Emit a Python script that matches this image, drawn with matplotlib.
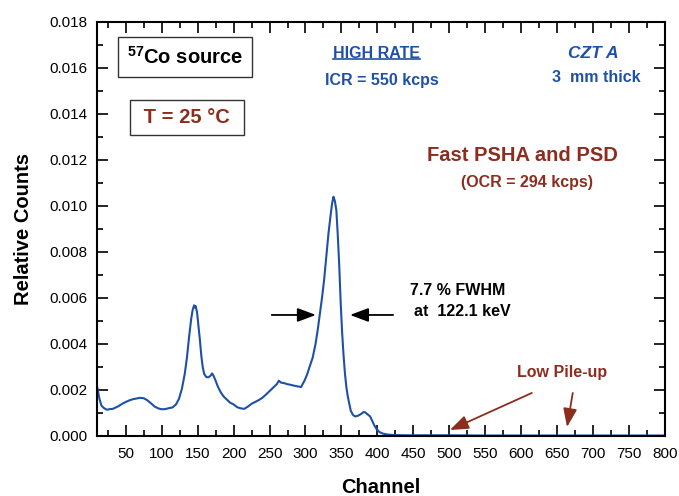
import matplotlib
matplotlib.use('Agg')
import matplotlib.pyplot as plt
from matplotlib.ticker import MultipleLocator, FormatStrFormatter
from matplotlib.lines import Line2D

plt.rcParams['font.family'] = ['Liberation Sans', 'DejaVu Sans']
plt.rcParams['mathtext.fontset'] = 'custom'
plt.rcParams['mathtext.bf'] = 'Liberation Sans:bold'
plt.rcParams['mathtext.rm'] = 'Liberation Sans:bold'
plt.rcParams['mathtext.default'] = 'bf'

# spectrum (channel, relative counts)
channel = [10, 13, 16, 20, 24, 28, 32, 36, 40, 45, 50, 55, 60, 65, 70, 75, 80, 85,
           90, 95, 100, 105, 110, 115, 120, 124, 128, 132, 135, 138, 141, 143, 145,
           146, 147, 149, 151, 153, 155, 157, 159, 162, 165, 168, 170, 172, 175, 178,
           182, 186, 190, 195, 200, 205, 210, 215, 220, 225, 230, 235, 240, 245, 250,
           255, 260, 263, 266, 270, 275, 280, 285, 290, 294, 299, 302, 306, 310, 314,
           317, 320, 323, 326, 329, 332, 335, 337, 339, 340, 341, 343, 345, 347, 349,
           351, 353, 355, 357, 359, 361, 363, 366, 369, 373, 377, 381, 383, 386, 390,
           393, 396, 399, 403, 408, 415, 425, 440, 470, 500, 550, 600, 650, 700, 750, 800]
counts = [0.00215, 0.00165, 0.00132, 0.00120, 0.00114, 0.00117, 0.00118, 0.00124,
          0.00130, 0.00140, 0.00148, 0.00155, 0.00160, 0.00163, 0.00166, 0.00164,
          0.00155, 0.00142, 0.00128, 0.00120, 0.00116, 0.00117, 0.00121, 0.00124,
          0.00138, 0.00162, 0.00205, 0.00270, 0.00340, 0.00430, 0.00510, 0.00548,
          0.00568, 0.00558, 0.00565, 0.00540, 0.00480, 0.00420, 0.00350, 0.00300,
          0.00270, 0.00256, 0.00255, 0.00262, 0.00272, 0.00262, 0.00240, 0.00215,
          0.00190, 0.00172, 0.00160, 0.00145, 0.00137, 0.00125, 0.00120, 0.00118,
          0.00128, 0.00140, 0.00148, 0.00156, 0.00166, 0.00180, 0.00195, 0.00210,
          0.00225, 0.00240, 0.00232, 0.00230, 0.00225, 0.00222, 0.00218, 0.00215,
          0.00213, 0.00243, 0.00265, 0.00303, 0.00340, 0.00400, 0.00460, 0.00530,
          0.00600, 0.00680, 0.00780, 0.00880, 0.00960, 0.01010, 0.01040, 0.01030,
          0.01020, 0.00980, 0.00870, 0.00740, 0.00580, 0.00450, 0.00350, 0.00270,
          0.00210, 0.00170, 0.00140, 0.00110, 0.00092, 0.00085, 0.00088, 0.00095,
          0.00104, 0.00103, 0.00095, 0.00085, 0.00065, 0.00045, 0.00030, 0.00017,
          0.00010, 0.00006, 0.00004, 0.00003, 0.00003, 0.00003, 0.00002, 0.00002,
          0.00002, 0.00002, 0.00002, 0.00002]

blue = '#1f50a8'
red = '#8c2d1e'

fig = plt.figure(figsize=(6.79, 4.96), dpi=100)
ax = fig.add_axes([0.143, 0.121, 0.836, 0.835])

ax.plot(channel, counts, color=blue, lw=1.5)

ax.set_xlim(10, 800)
ax.set_ylim(0, 0.018)
ax.xaxis.set_major_locator(MultipleLocator(50))
ax.xaxis.set_minor_locator(MultipleLocator(25))
ax.yaxis.set_major_locator(MultipleLocator(0.002))
ax.yaxis.set_minor_locator(MultipleLocator(0.001))
ax.yaxis.set_major_formatter(FormatStrFormatter('%.3f'))
ax.tick_params(which='both', direction='in', top=True, right=True, width=1.2,
               labelsize=11)
ax.tick_params(which='major', length=8)
ax.tick_params(which='minor', length=4)
ax.tick_params(axis='y', pad=7)
ax.tick_params(axis='x', pad=8)
for s in ax.spines.values():
    s.set_linewidth(1.5)

ax.set_xlabel('Channel', fontsize=14.5, fontweight='bold', labelpad=12)
ax.set_ylabel('Relative Counts', fontsize=14.5, fontweight='bold', labelpad=12)

# boxed labels
ax.text(132, 0.01647, r'$^{57}$Co source', fontsize=14.5, fontweight='bold',
        ha='center', va='center',
        bbox=dict(boxstyle='square,pad=0.45', fc='white', ec='#333333', lw=1))
ax.text(135, 0.01386, ' T = 25 °C ', fontsize=14.5, fontweight='bold', color=red,
        ha='center', va='center',
        bbox=dict(boxstyle='square,pad=0.4', fc='white', ec='#333333', lw=1))

hr = ax.text(399, 0.01664, 'HIGH RATE', fontsize=11.5, fontweight='bold',
             color=blue, ha='center', va='center')
ax.text(406, 0.01547, 'ICR = 550 kcps', fontsize=11.5, fontweight='bold',
        color=blue, ha='center', va='center')
ax.text(700, 0.01664, 'CZT A', fontsize=12.5, fontweight='bold', style='italic',
        color=blue, ha='center', va='center')
ax.text(705, 0.0156, '3  mm thick', fontsize=11.5, fontweight='bold',
        color=blue, ha='center', va='center')
ax.text(602, 0.01217, 'Fast PSHA and PSD', fontsize=14.5, fontweight='bold',
        color=red, ha='center', va='center')
ax.text(608, 0.0110, '(OCR = 294 kcps)', fontsize=11.5, fontweight='bold',
        color=red, ha='center', va='center')
ax.text(512, 0.00634, '7.7 % FWHM', fontsize=11.5, fontweight='bold',
        ha='center', va='center')
ax.text(518, 0.00539, 'at  122.1 keV', fontsize=11.5, fontweight='bold',
        ha='center', va='center')
ax.text(657, 0.00274, 'Low Pile-up', fontsize=11.5, fontweight='bold',
        color=red, ha='center', va='center')

# FWHM arrows
arr = '-|>,head_length=0.8,head_width=0.3'
ax.annotate('', xy=(314.5, 0.00526), xytext=(253, 0.00526),
            arrowprops=dict(arrowstyle=arr, color='black', lw=1.3,
                            mutation_scale=14, shrinkA=0, shrinkB=0))
ax.annotate('', xy=(362, 0.00526), xytext=(422, 0.00526),
            arrowprops=dict(arrowstyle=arr, color='black', lw=1.3,
                            mutation_scale=14, shrinkA=0, shrinkB=0))

# pile-up arrows
ax.annotate('', xy=(501, 0.00026), xytext=(615, 0.00187),
            arrowprops=dict(arrowstyle=arr, color=red, lw=1.3,
                            mutation_scale=14, shrinkA=0, shrinkB=0))
ax.annotate('', xy=(664, 0.00039), xytext=(672, 0.00187),
            arrowprops=dict(arrowstyle=arr, color=red, lw=1.3,
                            mutation_scale=14, shrinkA=0, shrinkB=0))

# underline for HIGH RATE
fig.canvas.draw()
bb = hr.get_window_extent()
inv = fig.transFigure.inverted()
(x0, y0), (x1, _) = inv.transform([(bb.x0, bb.y0 + 1.5), (bb.x1, bb.y0)])
fig.add_artist(Line2D([x0, x1], [y0, y0], transform=fig.transFigure,
                      color=blue, lw=1.2))

fig.savefig('out.png', dpi=100)
